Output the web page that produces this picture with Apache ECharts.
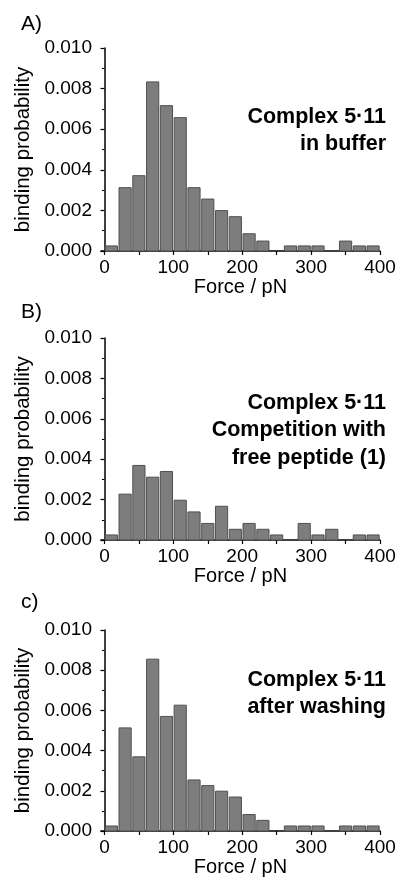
<!DOCTYPE html>
<html>
<head>
<meta charset="utf-8">
<title>Binding probability histograms</title>
<script src="https://cdn.jsdelivr.net/npm/echarts@6/dist/echarts.min.js"></script>
<style>
  html, body { margin: 0; padding: 0; background: #fff; }
  #chart { width: 401px; height: 882px; }
</style>
</head>
<body>
<div id="chart"></div>
<script>
// bins of 20 pN
const binStarts = [0, 20, 40, 60, 80, 100, 120, 140, 160, 180, 200, 220, 240, 260, 280, 300, 320, 340, 360, 380];
const binEnds = [20, 40, 60, 80, 100, 120, 140, 160, 180, 200, 220, 240, 260, 280, 300, 320, 340, 360, 380, 400];

// A) in buffer
const probBuffer = [0.00025, 0.00312, 0.00371, 0.00833, 0.00716, 0.00657, 0.00312, 0.00256, 0.00199, 0.00169,
  0.00085, 0.00049, 0, 0.00025, 0.00025, 0.00025, 0, 0.00049, 0.00025, 0.00025];
// B) competition with free peptide
const probCompetition = [0.00025, 0.00227, 0.00369, 0.00311, 0.00339, 0.00197, 0.00139, 0.00082, 0.00167, 0.00053,
  0.00082, 0.00053, 0.00025, 0, 0.00082, 0.00025, 0.00053, 0, 0.00025, 0.00025];
// c) after washing
const probWashing = [0.00025, 0.00513, 0.00369, 0.00855, 0.0057, 0.00626, 0.00254, 0.00226, 0.00198, 0.00169,
  0.00082, 0.00053, 0, 0.00025, 0.00025, 0.00025, 0, 0.00025, 0.00025, 0.00025];

const xTicks = [0, 50, 100, 150, 200, 250, 300, 350, 400];
const xLabels = [0, 100, 200, 300, 400];

const panelLetters = ["A)", "B)", "c)"];
const panelNotes = [
  ["Complex 5·11", "in buffer"],
  ["Complex 5·11", "Competition with", "free peptide (1)"],
  ["Complex 5·11", "after washing"],
];
const panelSeries = [probBuffer, probCompetition, probWashing];

const FONT = "'Liberation Sans', Arial, Helvetica, sans-serif";

// layout per panel
const grids = [
  { top: 48, height: 203 },
  { top: 338, height: 202 },
  { top: 630, height: 201 },
];
const letterY = [14, 302, 592];
const noteY = [117, 403, 680]; // middle of first line
const noteLine = 27.5;

const chart = echarts.init(document.getElementById("chart"), null, { renderer: "canvas" });

function renderBar(params, api) {
  const start = api.value(0);
  const end = api.value(1);
  const v = api.value(2);
  if (!v) return null;
  const p0 = api.coord([start, 0]);
  const p1 = api.coord([end, v]);
  return {
    type: "rect",
    shape: {
      x: p0[0] + 0.8,
      y: p1[1],
      width: p1[0] - p0[0] - 1.6,
      height: p0[1] - p1[1],
    },
    style: { fill: "#7d7d7d", stroke: "#505050", lineWidth: 1 },
  };
}

const noteTexts = [];
panelNotes.forEach((lines, i) => {
  lines.forEach((line, k) => {
    noteTexts.push({
      type: "text",
      x: 386,
      y: noteY[i] + k * noteLine,
      style: {
        text: line,
        fill: "#000",
        font: `bold 21.5px ${FONT}`,
        textAlign: "right",
        textVerticalAlign: "middle",
      },
    });
  });
});

const option = {
  animation: false,
  backgroundColor: "#fff",
  textStyle: { fontFamily: FONT },
  grid: grids.map((g) => ({ left: 101, width: 279, top: g.top, height: g.height })),
  xAxis: grids.map((g, i) => ({
    type: "value",
    gridIndex: i,
    min: -5,
    max: 400,
    name: "Force / pN",
    nameLocation: "middle",
    nameGap: 22,
    nameTextStyle: { color: "#000", fontSize: 20, fontFamily: FONT },
    axisLine: { show: true, onZero: false, lineStyle: { color: "#000", width: 1.5 } },
    axisTick: { show: true, inside: false, length: 4, customValues: xTicks, lineStyle: { color: "#000", width: 1.2 } },
    axisLabel: {
      show: true,
      customValues: xLabels,
      margin: 7,
      color: "#000",
      fontSize: 19,
      fontFamily: FONT,
    },
    splitLine: { show: false },
  })),
  yAxis: grids.map((g, i) => ({
    type: "value",
    gridIndex: i,
    min: 0,
    max: 0.01,
    interval: 0.002,
    name: "binding probability",
    nameLocation: "middle",
    nameRotate: 90,
    nameGap: 57,
    nameTextStyle: { color: "#000", fontSize: 20.5, fontFamily: FONT },
    axisLine: { show: true, lineStyle: { color: "#000", width: 1.5 } },
    axisTick: { show: true, inside: false, length: 4, lineStyle: { color: "#000", width: 1.2 } },
    minorTick: { show: true, splitNumber: 2, length: 2.5, lineStyle: { color: "#000", width: 1 } },
    axisLabel: {
      color: "#000",
      fontSize: 19,
      fontFamily: FONT,
      margin: 9,
      formatter: (v) => v.toFixed(3),
    },
    splitLine: { show: false },
  })),
  series: panelSeries.map((vals, i) => ({
    type: "custom",
    xAxisIndex: i,
    yAxisIndex: i,
    renderItem: renderBar,
    encode: { x: [0, 1], y: 2 },
    data: vals.map((v, k) => [binStarts[k], binEnds[k], v]),
    clip: false,
  })),
  graphic: [
    ...panelLetters.map((t, i) => ({
      type: "text",
      left: 21,
      top: letterY[i],
      style: { text: t, fill: "#000", font: `21px ${FONT}` },
    })),
    ...noteTexts,
  ],
};

chart.setOption(option);
</script>
</body>
</html>
